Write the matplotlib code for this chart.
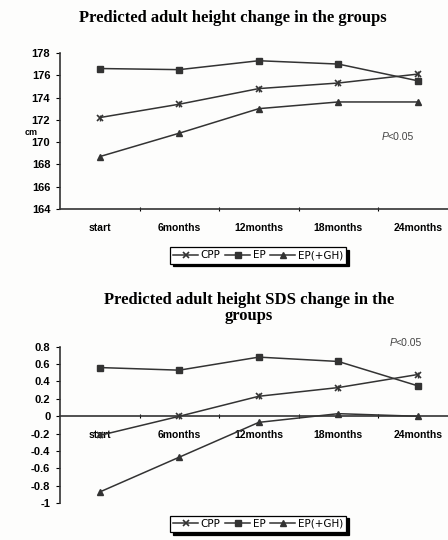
import matplotlib
matplotlib.use("Agg")
import matplotlib.pyplot as plt

stages = ["start", "6months", "12months", "18months", "24months"]

# predicted adult height (cm)
cpp_ht = [172.2, 173.4, 174.8, 175.3, 176.1]
ep_ht = [176.6, 176.5, 177.3, 177.0, 175.5]
epgh_ht = [168.7, 170.8, 173.0, 173.6, 173.6]

# predicted adult height SDS
cpp_sds = [-0.22, 0.0, 0.23, 0.33, 0.48]
ep_sds = [0.56, 0.53, 0.68, 0.63, 0.35]
epgh_sds = [-0.87, -0.47, -0.07, 0.03, 0.0]

line_col = "#333333"
serif = ["Liberation Serif", "DejaVu Serif"]
sans = ["Liberation Sans", "DejaVu Sans"]

fig = plt.figure(figsize=(4.48, 5.40), dpi=100)
fig.patch.set_facecolor("#fdfdfc")

x = list(range(len(stages)))


def draw(ax, cpp, ep, epgh, zero_axis=False):
    ax.set_facecolor("none")
    if zero_axis:
        ax.spines["bottom"].set_position(("data", 0))
    l1, = ax.plot(x, cpp, color=line_col, lw=1.1, marker="x", ms=5, mew=1.2)
    ax.plot(x, cpp, color=line_col, lw=0, marker="|", ms=5, mew=1.0)
    l2, = ax.plot(x, ep, color=line_col, lw=1.1, marker="s", ms=4.5)
    l3, = ax.plot(x, epgh, color=line_col, lw=1.1, marker="^", ms=4.5)
    ax.set_xlim(-0.5, 4.38)
    ax.set_xticks(x)
    ax.set_xticklabels(stages, fontsize=7.5, fontweight="bold", family=sans)
    ax.set_xticks([0.5, 1.5, 2.5, 3.5], minor=True)
    ax.tick_params(axis="x", which="major", length=0, pad=10)
    ax.tick_params(axis="x", which="minor", length=3, direction="inout", width=0.8)
    ax.tick_params(axis="y", length=3, width=0.8, labelsize=8, pad=4)
    for s in ["top", "right"]:
        ax.spines[s].set_visible(False)
    for s in ["left", "bottom"]:
        ax.spines[s].set_linewidth(1.2)
        ax.spines[s].set_color(line_col)
    return [l1, l2, l3]


def legend(handles, y):
    leg = fig.legend(handles, ["CPP", "EP", "EP(+GH)"], loc="center",
                     bbox_to_anchor=(0.576, y), ncol=3, fontsize=7.5,
                     handlelength=2.4, handletextpad=0.2, columnspacing=0.5,
                     borderpad=0.3, fancybox=False, framealpha=1,
                     edgecolor="black",
                     shadow={"color": "black", "alpha": 1})
    leg.get_frame().set_linewidth(0.9)


def p_value(ax, xp, yp):
    ax.text(xp, yp, "P", fontsize=7.5, style="italic", family=sans, color="#444444")
    ax.text(xp + 0.075, yp, "<0.05", fontsize=7.5, family=sans, color="#444444")


# height chart
ax1 = fig.add_axes([0.134, 0.613, 0.866, 0.289])
h = draw(ax1, cpp_ht, ep_ht, epgh_ht)
ax1.set_ylim(164, 178)
ax1.set_yticks(range(164, 179, 2))
ax1.set_yticklabels([str(v) for v in range(164, 179, 2)], fontweight="bold", family=sans)
ax1.text(-0.075, 0.49, "cm", transform=ax1.transAxes, fontsize=6.5,
         fontweight="bold", family=sans, ha="center", va="center")
p_value(ax1, 3.55, 170.2)
fig.text(0.52, 0.966, "Predicted adult height change in the groups",
         ha="center", va="center", fontsize=12, fontweight="bold", family=serif)
legend(h, 0.527)

# SDS chart
ax2 = fig.add_axes([0.134, 0.068, 0.866, 0.290])
h = draw(ax2, cpp_sds, ep_sds, epgh_sds, zero_axis=True)
ax2.set_ylim(-1, 0.8)
sds_ticks = [-1, -0.8, -0.6, -0.4, -0.2, 0, 0.2, 0.4, 0.6, 0.8]
ax2.set_yticks(sds_ticks)
ax2.set_yticklabels(["-1", "-0.8", "-0.6", "-0.4", "-0.2", "0", "0.2", "0.4", "0.6", "0.8"],
                    fontweight="bold", family=sans)
ax2.tick_params(axis="x", which="major", pad=10)
p_value(ax2, 3.65, 0.81)
fig.text(0.555, 0.43, "Predicted adult height SDS change in the\ngroups",
         ha="center", va="center", fontsize=12, fontweight="bold", family=serif,
         linespacing=1.05)
legend(h, 0.03)

fig.savefig("out.png", dpi=100, facecolor=fig.get_facecolor())
